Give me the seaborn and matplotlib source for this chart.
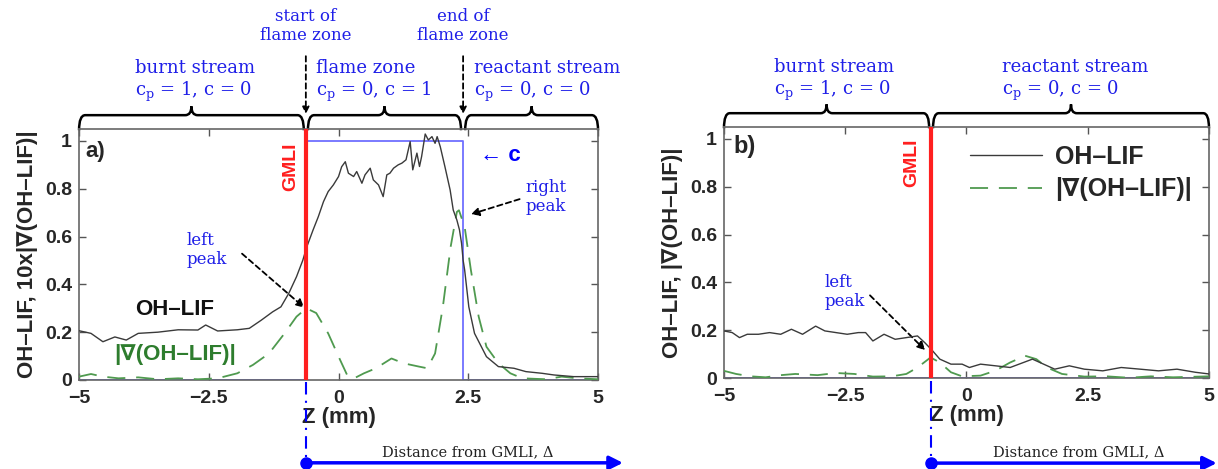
import matplotlib
matplotlib.use("Agg")
import matplotlib.pyplot as plt
from matplotlib.path import Path
from matplotlib.patches import PathPatch
import seaborn as sns

# ---- panel a data ----
z_oh_a = [-5.0, -4.77, -4.54, -4.31, -4.09, -3.86, -3.48, -3.09, -2.71, -2.56,
          -2.33, -1.95, -1.72, -1.49, -1.27, -1.11, -0.96, -0.81, -0.69,
          -0.61, -0.49, -0.39, -0.29, -0.20, -0.10, 0.0, 0.06, 0.13, 0.19,
          0.29, 0.35, 0.45, 0.51, 0.61, 0.67, 0.77, 0.86, 0.93, 0.99,
          1.06, 1.15, 1.22, 1.30, 1.38, 1.43, 1.51, 1.56, 1.60, 1.67,
          1.73, 1.80, 1.86, 1.90, 1.96, 2.05, 2.15, 2.21, 2.28, 2.33,
          2.37, 2.40,
          2.43, 2.51, 2.62, 2.85, 3.08, 3.38, 3.61, 3.92, 4.15, 4.53, 5.0]
oh_a = [0.206, 0.195, 0.16, 0.18, 0.167, 0.195, 0.20, 0.21, 0.209, 0.23,
        0.205, 0.21, 0.216, 0.25, 0.285, 0.306, 0.362, 0.432, 0.50,
        0.558, 0.628, 0.683, 0.746, 0.788, 0.816, 0.851, 0.892, 0.913, 0.865,
        0.851, 0.872, 0.823, 0.858, 0.886, 0.837, 0.816, 0.767, 0.858, 0.865,
        0.886, 0.900, 0.907, 0.921, 0.997, 0.879, 0.949, 0.893, 0.934, 1.029,
        1.004, 1.018, 0.990, 1.018, 0.976, 0.892, 0.795, 0.711, 0.669, 0.628,
        0.572, 0.502,
        0.46, 0.306, 0.195, 0.0975, 0.056, 0.049, 0.035, 0.028, 0.021, 0.014,
        0.014]
z_grad_a = [-5.0, -4.77, -4.54, -4.24, -3.86, -3.48, -3.09, -2.71, -2.33, -1.95,
            -1.65, -1.34, -1.04, -0.81, -0.62, -0.43, -0.20, 0.03, 0.18, 0.30,
            0.49, 0.72, 1.02, 1.25, 1.55, 1.71, 1.86, 2.01, 2.16, 2.28,
            2.32, 2.43, 2.55, 2.70, 2.85, 3.08, 3.31, 3.54, 4.0, 4.30,
            4.60, 5.0]
grad_a = [0.014, 0.025, 0.014, 0.007, 0.011, 0.003, 0.007, 0.003, 0.007, 0.028,
          0.063, 0.111, 0.195, 0.265, 0.30, 0.28, 0.195, 0.084, 0.014, 0.007,
          0.028, 0.049, 0.09, 0.07, 0.056, 0.049, 0.111, 0.306, 0.557, 0.703,
          0.71, 0.64, 0.46, 0.265, 0.139, 0.07, 0.028, 0.007, 0.003, 0.014,
          0.007, 0.003]
gmli_a = -0.63
flame_end_a = 2.4
z_c_a = [-5.0, gmli_a, gmli_a, flame_end_a, flame_end_a, 5.0]
c_a = [0, 0, 1, 1, 0, 0]

# ---- panel b data ----
z_oh_b = [-5.0, -4.83, -4.68, -4.52, -4.29, -4.06, -3.83, -3.61, -3.38, -3.11,
          -2.92, -2.69, -2.46, -2.23, -2.08, -1.93, -1.70, -1.47, -1.24, -1.01,
          -0.86, -0.70, -0.55, -0.32, -0.09, 0.06, 0.29, 0.60, 0.90, 1.36,
          1.59, 1.82, 2.12, 2.43, 2.81, 3.19, 3.58, 3.96, 4.34, 4.72, 5.0]
oh_b = [0.197, 0.19, 0.169, 0.183, 0.183, 0.19, 0.183, 0.204, 0.183, 0.217,
        0.197, 0.19, 0.183, 0.19, 0.19, 0.155, 0.183, 0.162, 0.169, 0.176,
        0.148, 0.114, 0.079, 0.058, 0.058, 0.044, 0.058, 0.051, 0.044, 0.079,
        0.058, 0.037, 0.051, 0.037, 0.03, 0.044, 0.037, 0.03, 0.037, 0.024, 0.017]
z_grad_b = [-5.0, -4.75, -4.45, -4.14, -3.83, -3.53, -3.07, -2.69, -2.31, -1.93,
            -1.54, -1.24, -1.01, -0.74, -0.55, -0.32, -0.09, 0.29, 0.60, 0.90,
            1.21, 1.44, 1.66, 1.97, 2.43, 2.89, 3.35, 3.80, 4.26, 5.0]
grad_b = [0.03, 0.017, 0.007, 0.003, 0.012, 0.017, 0.012, 0.021, 0.017, 0.006,
          0.007, 0.017, 0.044, 0.086, 0.065, 0.024, 0.007, 0.01, 0.031, 0.065,
          0.093, 0.079, 0.044, 0.017, 0.006, 0.007, 0.001, 0.007, 0.003, 0.007]
gmli_b = -0.73
z_c_b = [-5.0, 5.0]
c_b = [0, 0]

x_ticks = [-5, -2.5, 0, 2.5, 5]
x_tick_labels = ["\u22125", "\u22122.5", "0", "2.5", "5"]
y_ticks = [0, 0.2, 0.4, 0.6, 0.8, 1]
y_tick_labels = ["0", "0.2", "0.4", "0.6", "0.8", "1"]

BLUE_TXT = "#1f1fe8"
BLACK_LINE = "#3a3a3a"
GREEN_LINE = "#4f9a4f"
BLUE_LINE = "#6f6fff"
RED = "#ff1f1f"
SERIF = "DejaVu Serif"

sns.set_style("ticks")
plt.rcParams["font.family"] = ["Liberation Sans", "DejaVu Sans"]
plt.rcParams["mathtext.fontset"] = "dejavuserif"
plt.rcParams["axes.unicode_minus"] = True


def draw_brace(ax, x0, x1, y0=0.995, yl=1.055, yt=1.09, r=0.12):
    """
    Curly brace above the axes, x in data, y in axes fraction.
    """
    xm = (x0 + x1) / 2
    verts = [(x0, y0), (x0, yl), (x0 + r, yl), (xm - r, yl),
             (xm, yl), (xm, yt), (xm, yl), (xm + r, yl),
             (x1 - r, yl), (x1, yl), (x1, y0)]
    codes = [Path.MOVETO, Path.CURVE3, Path.CURVE3, Path.LINETO,
             Path.CURVE3, Path.CURVE3, Path.CURVE3, Path.CURVE3,
             Path.LINETO, Path.CURVE3, Path.CURVE3]
    patch = PathPatch(Path(verts, codes), facecolor="none", edgecolor="black",
                      linewidth=1.8, transform=ax.get_xaxis_transform(),
                      clip_on=False)
    ax.add_patch(patch)


def zone_text(ax, x, y, text, size=13, align="left"):
    ax.text(x, y, text, transform=ax.get_xaxis_transform(), ha="center",
            va="center", multialignment=align, color=BLUE_TXT,
            family=SERIF, fontsize=size, linespacing=1.15, clip_on=False)


def style_axes(ax, ylabel):
    ax.set_xlim(-5, 5)
    ax.set_ylim(0, 1.05)
    ax.set_xticks(x_ticks)
    ax.set_xticklabels(x_tick_labels, fontsize=14, fontweight="bold")
    ax.set_yticks(y_ticks)
    ax.set_yticklabels(y_tick_labels, fontsize=14, fontweight="bold")
    ax.tick_params(direction="in", top=True, right=True, length=5,
                   width=1, color="#555555", pad=5)
    ax.tick_params(axis="x", pad=7)
    for s in ax.spines.values():
        s.set_color("#666666")
        s.set_linewidth(1.2)
    ax.set_xlabel("Z (mm)", fontsize=16, fontweight="bold", labelpad=0)
    ax.set_ylabel(ylabel, fontsize=16, fontweight="bold", labelpad=5)


def distance_arrow(ax, gmli, x_end, y_low, text_x, text_y):
    tr = ax.get_xaxis_transform()
    ax.plot([gmli, gmli], [-0.01, y_low], transform=tr, color="blue",
            linestyle=(0, (6, 3, 1, 3)), linewidth=1.5, clip_on=False,
            zorder=5)
    ax.annotate("", xy=(x_end, y_low), xytext=(gmli, y_low), xycoords=tr,
                textcoords=tr,
                arrowprops=dict(arrowstyle="-|>", color="blue", lw=2.5,
                                mutation_scale=20, shrinkA=0, shrinkB=0),
                annotation_clip=False)
    ax.plot([gmli], [y_low], transform=tr, marker="o", markersize=8,
            color="blue", clip_on=False)
    ax.text(text_x, text_y, "Distance from GMLI, \u0394", transform=tr,
            ha="center", va="center", family=SERIF, fontsize=10.5,
            color="#222222", clip_on=False)


fig = plt.figure(figsize=(12.18, 4.69), dpi=100)
ax_a = fig.add_axes([0.0649, 0.1898, 0.4261, 0.5352])
ax_b = fig.add_axes([0.5944, 0.194, 0.3982, 0.5352])

# ---------------- panel a ----------------
sns.lineplot(x=z_c_a, y=c_a, ax=ax_a, color=BLUE_LINE, linewidth=1.3,
             sort=False, estimator=None, zorder=2)
sns.lineplot(x=z_grad_a, y=grad_a, ax=ax_a, color=GREEN_LINE, linewidth=1.3,
             linestyle=(0, (10, 6)), estimator=None, zorder=3)
sns.lineplot(x=z_oh_a, y=oh_a, ax=ax_a, color=BLACK_LINE, linewidth=1.0,
             estimator=None, zorder=4)
ax_a.axvline(gmli_a, color=RED, linewidth=3, zorder=6)
style_axes(ax_a, "OH\u2013LIF, 10x|\u2207(OH\u2013LIF)|")

ax_a.text(-4.87, 0.955, "a)", fontsize=16, fontweight="bold", va="center")
ax_a.text(gmli_a - 0.3, 0.89, "GMLI", rotation=90, color=RED, fontsize=14,
          fontweight="bold", ha="center", va="center")
ax_a.text(-3.15, 0.293, "OH\u2013LIF", fontsize=16, fontweight="bold",
          ha="center", va="center", color="#111111")
ax_a.text(-3.15, 0.105, "|\u2207(OH\u2013LIF)|", fontsize=16,
          fontweight="bold", ha="center", va="center", color="#2e7d2e")
ax_a.text(3.12, 0.94, "\u2190 c", fontsize=16, fontweight="bold",
          ha="center", va="center", color="blue")
ax_a.text(-2.92, 0.544, "left\npeak", family=SERIF, fontsize=12,
          color=BLUE_TXT, ha="left", va="center", linespacing=1.15)
ax_a.annotate("", xy=(-0.62, 0.295), xytext=(-1.9, 0.536),
              arrowprops=dict(arrowstyle="-|>", color="black", lw=1.3,
                              linestyle=(0, (3, 2)), mutation_scale=12))
ax_a.text(3.61, 0.766, "right\npeak", family=SERIF, fontsize=12,
          color=BLUE_TXT, ha="left", va="center", linespacing=1.15)
ax_a.annotate("", xy=(2.5, 0.69), xytext=(3.54, 0.76),
              arrowprops=dict(arrowstyle="-|>", color="black", lw=1.3,
                              linestyle=(0, (3, 2)), mutation_scale=12))

draw_brace(ax_a, -5.0, gmli_a - 0.04)
draw_brace(ax_a, gmli_a + 0.04, flame_end_a - 0.04)
draw_brace(ax_a, flame_end_a + 0.04, 5.0)
zone_text(ax_a, -2.77, 1.19, "burnt stream\nc$_\\mathregular{p}$ = 1, c = 0")
zone_text(ax_a, 0.68, 1.19, "flame zone\nc$_\\mathregular{p}$ = 0, c = 1")
zone_text(ax_a, 4.02, 1.19, "reactant stream\nc$_\\mathregular{p}$ = 0, c = 0")
zone_text(ax_a, gmli_a, 1.41, "start of\nflame zone", size=12, align="center")
zone_text(ax_a, flame_end_a, 1.41, "end of\nflame zone", size=12,
          align="center")
for xv in [gmli_a, flame_end_a]:
    ax_a.annotate("", xy=(xv, 1.06), xytext=(xv, 1.29),
                  xycoords=ax_a.get_xaxis_transform(),
                  textcoords=ax_a.get_xaxis_transform(),
                  arrowprops=dict(arrowstyle="-|>", color="black", lw=1.3,
                                  linestyle=(0, (3, 2)), mutation_scale=10,
                                  shrinkA=0, shrinkB=0),
                  annotation_clip=False)
distance_arrow(ax_a, gmli_a, 5.48, -0.33, 2.48, -0.287)

# ---------------- panel b ----------------
sns.lineplot(x=z_c_b, y=c_b, ax=ax_b, color=BLUE_LINE, linewidth=1.3,
             sort=False, estimator=None, zorder=2)
sns.lineplot(x=z_oh_b, y=oh_b, ax=ax_b, color=BLACK_LINE, linewidth=1.0,
             estimator=None, zorder=4, label="OH\u2013LIF")
sns.lineplot(x=z_grad_b, y=grad_b, ax=ax_b, color=GREEN_LINE, linewidth=1.3,
             linestyle=(0, (10, 6)), estimator=None, zorder=3,
             label="|\u2207(OH\u2013LIF)|")
ax_b.axvline(gmli_b, color=RED, linewidth=3, zorder=6)
style_axes(ax_b, "OH\u2013LIF, |\u2207(OH\u2013LIF)|")
ax_b.legend(loc="upper right", bbox_to_anchor=(1.0, 1.0), frameon=False,
            prop=dict(size=18, weight="bold"), handlelength=2.9,
            handletextpad=0.5, labelspacing=0.35, borderaxespad=0.3)

ax_b.text(-4.81, 0.97, "b)", fontsize=17, fontweight="bold", va="center")
ax_b.text(-1.12, 0.90, "GMLI", rotation=90, color=RED, fontsize=14,
          fontweight="bold", ha="center", va="center")
ax_b.text(-2.92, 0.36, "left\npeak", family=SERIF, fontsize=12,
          color=BLUE_TXT, ha="left", va="center", linespacing=1.15)
ax_b.annotate("", xy=(-0.81, 0.108), xytext=(-2.03, 0.354),
              arrowprops=dict(arrowstyle="-|>", color="black", lw=1.3,
                              linestyle=(0, (3, 2)), mutation_scale=12))

draw_brace(ax_b, -5.0, gmli_b - 0.04)
draw_brace(ax_b, gmli_b + 0.04, 5.0)
zone_text(ax_b, -2.73, 1.185, "burnt stream\nc$_\\mathregular{p}$ = 1, c = 0")
zone_text(ax_b, 2.24, 1.185, "reactant stream\nc$_\\mathregular{p}$ = 0, c = 0")
distance_arrow(ax_b, gmli_b, 5.16, -0.339, 2.32, -0.295)

fig.savefig("out.png", dpi=100)
plt.close(fig)
